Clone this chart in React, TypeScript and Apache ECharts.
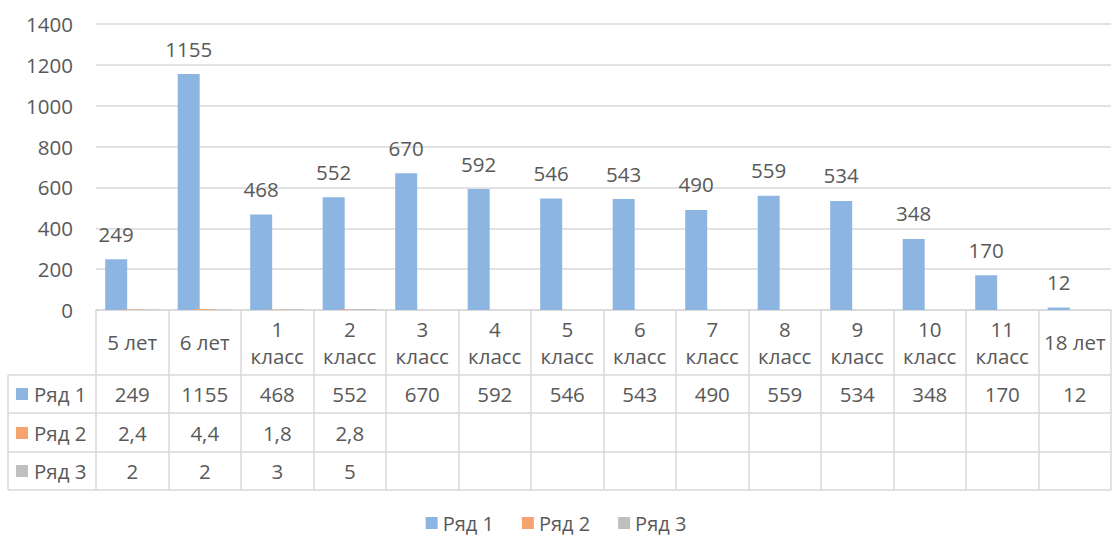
import React, { useEffect, useRef } from "react";
import * as echarts from "echarts";

const categories = [
  "5 лет", "6 лет", "1\nкласс", "2\nкласс", "3\nкласс", "4\nкласс", "5\nкласс",
  "6\nкласс", "7\nкласс", "8\nкласс", "9\nкласс", "10\nкласс", "11\nкласс", "18 лет",
];
const seriesNames = ["Ряд 1", "Ряд 2", "Ряд 3"];
const series1 = [249, 1155, 468, 552, 670, 592, 546, 543, 490, 559, 534, 348, 170, 12];
const series2 = [2.4, 4.4, 1.8, 2.8, null, null, null, null, null, null, null, null, null, null];
const series3 = [2, 2, 3, 5, null, null, null, null, null, null, null, null, null, null];
const colors = ["#8DB5E1", "#F3A46F", "#BFBFBF"];
const yTicks = { min: 0, max: 1400, interval: 200 };

const TEXT = "#595959";
const LINE = "#D9D9D9";
const FONT = "Open Sans";
const FS = 20.5;

export default function App() {
  const ref = useRef<HTMLDivElement>(null);
  useEffect(() => {
    if (!ref.current) return;
    const chart = echarts.init(ref.current, undefined, { renderer: "svg" });
    const allSeries = [series1, series2, series3];
    const fmt = (v: number | null) => (v == null ? "" : String(v).replace(".", ","));
    const gridLeft = 96;
    const gridRight = 1;
    const axisY = 310;
    const rowOffsets = [84, 123, 161];
    const rowLinesY = [375, 413, 452, 490];

    const graphics: any[] = [];
    rowLinesY.forEach((y) => {
      graphics.push({
        type: "line",
        shape: { x1: 8, y1: y, x2: 1112 - gridRight, y2: y },
        style: { stroke: LINE, lineWidth: 1.5 },
        silent: true,
      });
    });
    graphics.push({
      type: "line",
      shape: { x1: 8, y1: 375, x2: 8, y2: 490 },
      style: { stroke: LINE, lineWidth: 1.5 },
    });
    seriesNames.forEach((name, i) => {
      const cy = axisY + rowOffsets[i];
      graphics.push({
        type: "rect",
        shape: { x: 16, y: cy - 6, width: 12, height: 12 },
        style: { fill: colors[i] },
      });
      graphics.push({
        type: "text",
        x: 34,
        y: cy,
        style: {
          text: name,
          fill: TEXT,
          font: `${FS}px "${FONT}"`,
          verticalAlign: "middle",
          align: "left",
        },
      });
    });

    const rowAxes = allSeries.map((s, i) => ({
      type: "category",
      data: s.map(fmt),
      position: "bottom",
      offset: rowOffsets[i],
      gridIndex: 0,
      axisLine: { show: false },
      axisTick: { show: false },
      axisLabel: {
        interval: 0,
        margin: 0,
        verticalAlign: "middle",
        color: TEXT,
        fontSize: FS,
        fontFamily: FONT,
      },
    }));

    chart.setOption({
      animation: false,
      textStyle: { fontFamily: FONT },
      grid: { left: gridLeft, right: gridRight, top: 24, bottom: 538 - axisY, containLabel: false },
      legend: {
        bottom: 0,
        left: "center",
        icon: "rect",
        itemWidth: 12,
        itemHeight: 12,
        itemGap: 28,
        data: seriesNames,
        textStyle: { color: TEXT, fontSize: 20, fontFamily: FONT },
      },
      xAxis: [
        {
          type: "category",
          data: categories,
          axisLine: { show: true, lineStyle: { color: LINE, width: 1.5 } },
          axisTick: {
            show: true,
            length: 180,
            interval: 0,
            lineStyle: { color: LINE, width: 1.5 },
          },
          axisLabel: {
            interval: 0,
            margin: 32,
            verticalAlign: "middle",
            lineHeight: 27,
            color: TEXT,
            fontSize: FS,
            fontFamily: FONT,
          },
        },
        ...rowAxes,
      ],
      yAxis: {
        type: "value",
        min: yTicks.min,
        max: yTicks.max,
        interval: yTicks.interval,
        axisLine: { show: false },
        axisTick: { show: false },
        axisLabel: {
          color: TEXT,
          fontSize: FS,
          fontFamily: FONT,
          margin: 23,
          formatter: (v: number) => String(v),
        },
        splitLine: { lineStyle: { color: LINE, width: 1.5 } },
      },
      series: allSeries.map((s, i) => ({
        name: seriesNames[i],
        type: "bar",
        xAxisIndex: 0,
        data: s,
        barWidth: 22,
        barGap: "-27%",
        itemStyle: { color: colors[i] },
        label:
          i === 0
            ? {
                show: true,
                position: "top",
                distance: 15,
                color: TEXT,
                fontSize: FS,
                fontFamily: FONT,
              }
            : { show: false },
      })),
      graphic: graphics,
    });
    return () => chart.dispose();
  }, []);
  return (
    <div
      ref={ref}
      style={{ position: "absolute", left: 0, top: 0, width: 1112, height: 538, background: "#fff" }}
    />
  );
}
